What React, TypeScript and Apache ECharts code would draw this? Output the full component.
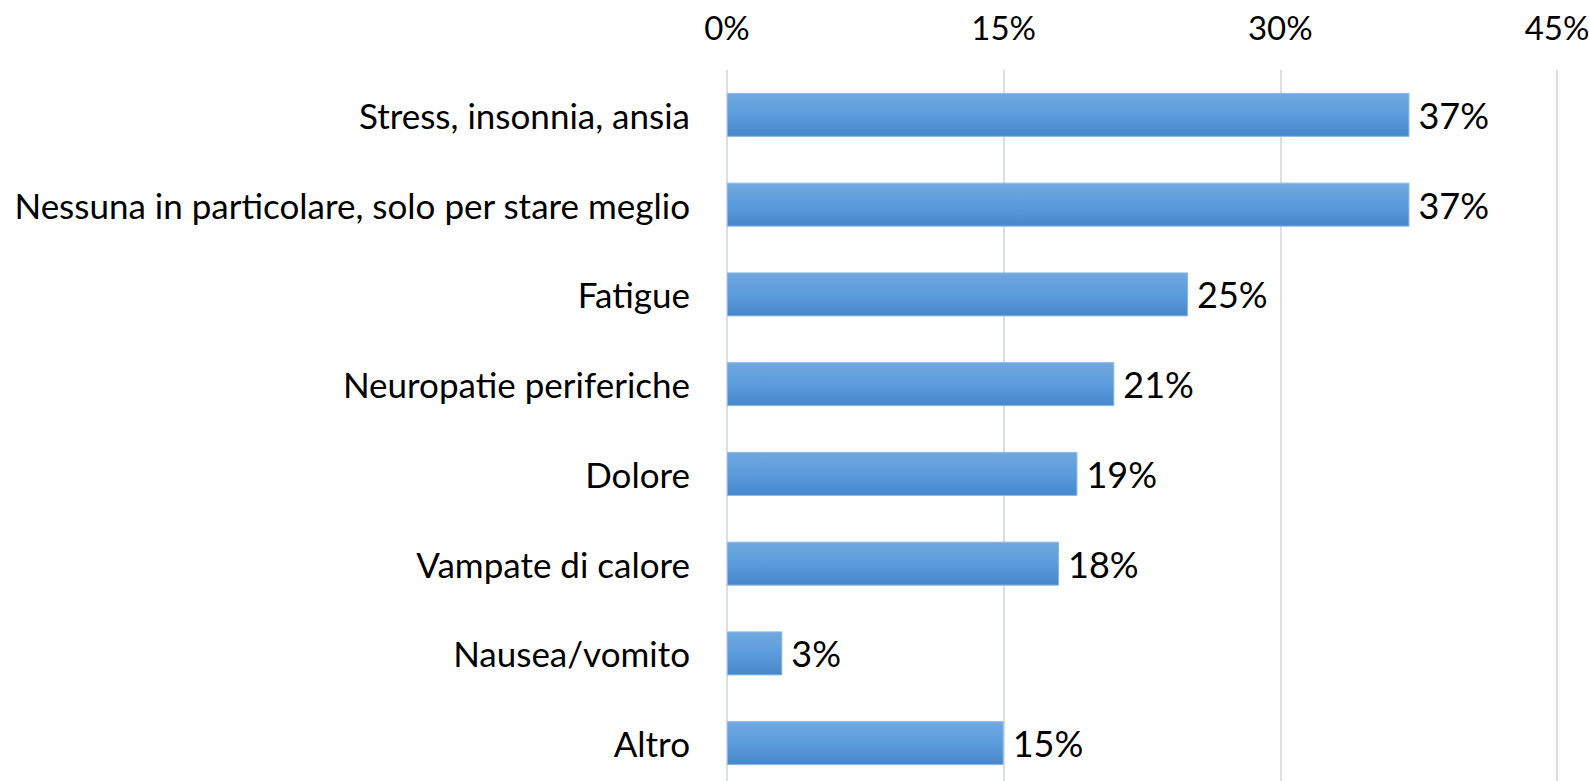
import React, { useEffect, useRef } from "react";
import * as echarts from "echarts";

const categories = [
  "Stress, insonnia, ansia",
  "Nessuna in particolare, solo per stare meglio",
  "Fatigue",
  "Neuropatie periferiche",
  "Dolore",
  "Vampate di calore",
  "Nausea/vomito",
  "Altro",
];
const values = [37, 37, 25, 21, 19, 18, 3, 15];
const tickMax = 45;
const tickStep = 15;

const FONT = "Lato, 'Open Sans', sans-serif";

export default function App() {
  const ref = useRef<HTMLDivElement>(null);
  useEffect(() => {
    document.body.style.margin = "0";
    const chart = echarts.init(ref.current!, null, { renderer: "svg" });
    chart.setOption({
      animation: false,
      backgroundColor: "#ffffff",
      grid: {
        left: 727,
        right: 32,
        top: 70,
        bottom: -7,
        containLabel: false,
        outerBoundsMode: "none",
      },
      xAxis: {
        type: "value",
        position: "top",
        min: 0,
        max: tickMax,
        interval: tickStep,
        axisLine: { show: false },
        axisTick: { show: false },
        splitLine: { show: true, lineStyle: { color: "#d9dee7", width: 2 } },
        axisLabel: {
          formatter: (v: number) => v + "%",
          color: "#000",
          fontSize: 33,
          fontFamily: FONT,
          margin: 27,
        },
      },
      yAxis: {
        type: "category",
        inverse: true,
        data: categories,
        axisLine: { show: false },
        axisTick: { show: false },
        axisLabel: {
          color: "#000",
          fontSize: 35,
          fontFamily: FONT,
          margin: 37,
        },
      },
      series: [
        {
          type: "bar",
          data: values,
          barWidth: 44,
          itemStyle: {
            color: new echarts.graphic.LinearGradient(0, 0, 0, 1, [
              { offset: 0, color: "#72a8de" },
              { offset: 0.5, color: "#5a9cdc" },
              { offset: 1, color: "#4687cb" },
            ]),
            borderColor: "#8ab8e6",
            borderWidth: 1,
          },
          label: {
            show: true,
            position: "right",
            distance: 9,
            formatter: (p: any) => p.value + "%",
            color: "#000",
            fontSize: 36,
            fontFamily: FONT,
          },
        },
      ],
    });
    return () => chart.dispose();
  }, []);
  return <div ref={ref} style={{ width: 1589, height: 781 }} />;
}
